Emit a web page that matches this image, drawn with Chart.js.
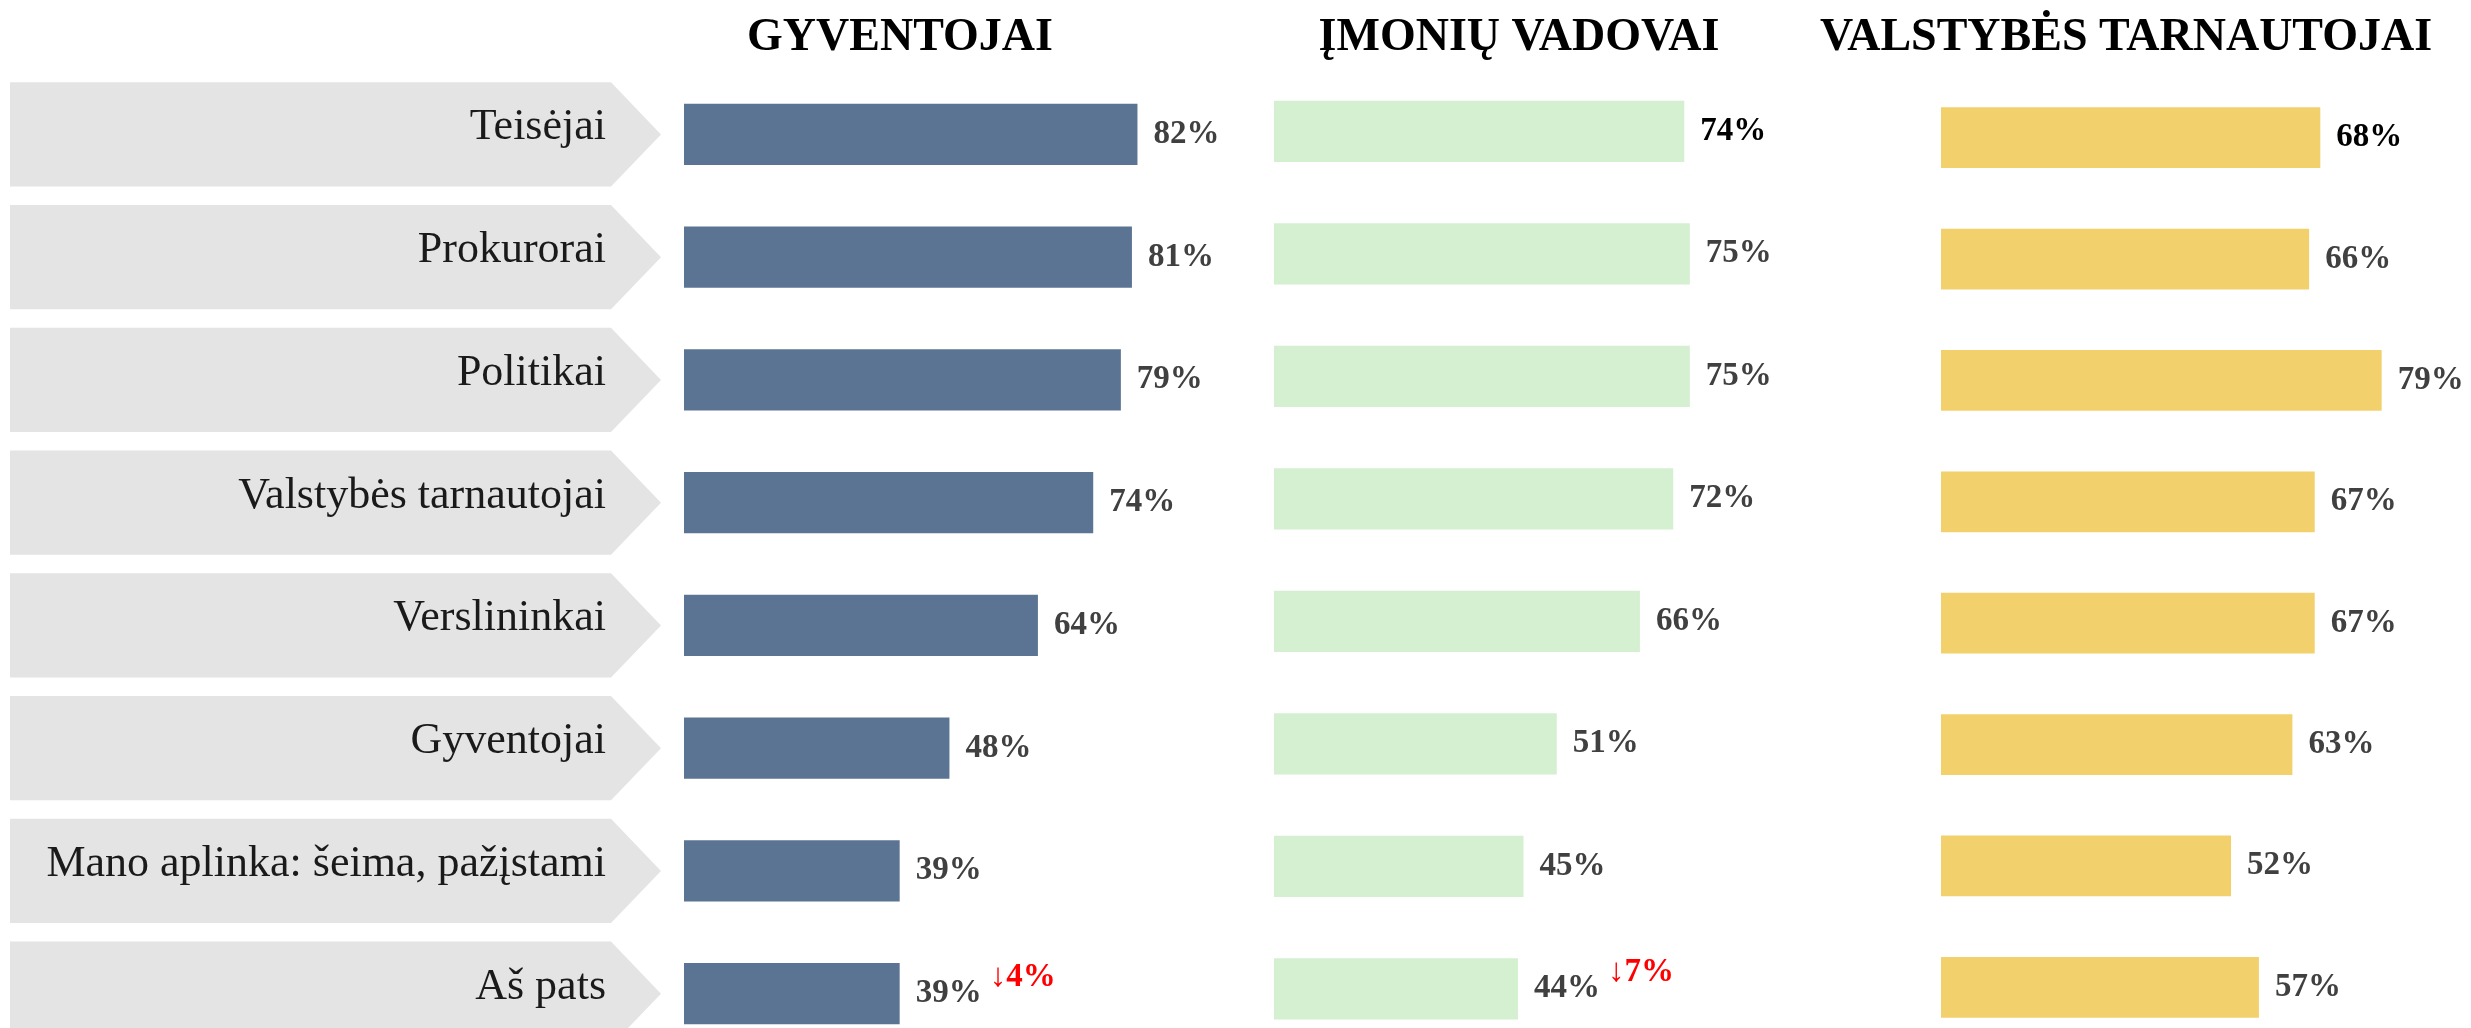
<!DOCTYPE html>
<html>
<head>
<meta charset="utf-8">
<script src="https://cdn.jsdelivr.net/npm/chart.js@4.4.1/dist/chart.umd.min.js"></script>
<style>
  html, body { margin: 0; padding: 0; background: #fff; overflow: hidden; }
  body { width: 2471px; height: 1028px; position: relative; }
  .panel { position: absolute; top: 0; height: 1060px; }
</style>
</head>
<body>
<div class="panel" style="left:0;width:1250px"><canvas id="c1"></canvas></div>
<div class="panel" style="left:1250px;width:550px"><canvas id="c2"></canvas></div>
<div class="panel" style="left:1800px;width:671px"><canvas id="c3"></canvas></div>
<script>
const categories = ['Teisėjai', 'Prokurorai', 'Politikai', 'Valstybės tarnautojai', 'Verslininkai', 'Gyventojai', 'Mano aplinka: šeima, pažįstami', 'Aš pats'];
const titles = ['GYVENTOJAI', 'ĮMONIŲ VADOVAI', 'VALSTYBĖS TARNAUTOJAI'];
const gyventojai = [82, 81, 79, 74, 64, 48, 39, 39];
const imoniuVadovai = [74, 75, 75, 72, 66, 51, 45, 44];
const valstybesTarnautojai = [68, 66, 79, 67, 67, 63, 52, 57];
// change vs previous wave (only shown where reported)
const gyventojaiChange = [null, null, null, null, null, null, null, -4];
const vadovaiChange = [null, null, null, null, null, null, null, -7];
const tarnautojaiChange = [null, null, null, null, null, null, null, null];

const SERIF = '"Liberation Serif", "Times New Roman", serif';

const panelTitle = {
  id: 'panelTitle',
  afterDraw(chart, args, o) {
    const ctx = chart.ctx;
    ctx.save();
    ctx.font = 'bold 46px ' + SERIF;
    ctx.fillStyle = '#000';
    ctx.textAlign = 'center';
    ctx.textBaseline = 'alphabetic';
    ctx.fillText(o.text, o.x, 50);
    ctx.restore();
  }
};

function valueLabels(changes, firstColor) {
  return {
    id: 'valueLabels',
    afterDatasetsDraw(chart) {
      const ctx = chart.ctx;
      const meta = chart.getDatasetMeta(0);
      const data = chart.data.datasets[0].data;
      ctx.save();
      ctx.font = 'bold 33px ' + SERIF;
      ctx.textAlign = 'left';
      meta.data.forEach((bar, i) => {
        const text = data[i] + '%';
        ctx.fillStyle = i === 0 ? firstColor : '#404040';
        ctx.textBaseline = 'middle';
        ctx.fillText(text, bar.x + 16, bar.y);
        if (changes[i] != null) {
          const w = ctx.measureText(text).width;
          ctx.fillStyle = '#ff0000';
          ctx.textBaseline = 'alphabetic';
          ctx.fillText((changes[i] < 0 ? '↓' : '↑') + Math.abs(changes[i]) + '%', bar.x + 16 + w + 8, bar.y - 8);
        }
      });
      ctx.restore();
    }
  };
}

// grey chevrons with the category names, placed on the y scale of the first panel
const categoryArrows = {
  id: 'categoryArrows',
  beforeDatasetsDraw(chart) {
    const ctx = chart.ctx;
    const y = chart.scales.y;
    const half = (y.getPixelForValue(1) - y.getPixelForValue(0)) * 0.425;
    ctx.save();
    categories.forEach((label, i) => {
      const cy = y.getPixelForValue(i);
      ctx.beginPath();
      ctx.moveTo(10, cy - half);
      ctx.lineTo(611, cy - half);
      ctx.lineTo(661, cy);
      ctx.lineTo(611, cy + half);
      ctx.lineTo(10, cy + half);
      ctx.closePath();
      ctx.fillStyle = '#e4e4e4';
      ctx.fill();
      ctx.fillStyle = '#1a1a1a';
      ctx.font = '44px ' + SERIF;
      ctx.textAlign = 'right';
      ctx.textBaseline = 'alphabetic';
      ctx.fillText(label, 606, cy + 5);
    });
    ctx.restore();
  }
};

function makeChart(id, values, cfg) {
  return new Chart(document.getElementById(id), {
    type: 'bar',
    data: {
      labels: categories,
      datasets: [{
        data: values,
        backgroundColor: cfg.color,
        barPercentage: 0.5,
        categoryPercentage: 1
      }]
    },
    options: {
      indexAxis: 'y',
      responsive: true,
      maintainAspectRatio: false,
      animation: false,
      layout: { padding: cfg.padding },
      scales: {
        x: { display: false, min: 0, max: cfg.max },
        y: { display: false }
      },
      plugins: {
        legend: { display: false },
        tooltip: { enabled: false },
        panelTitle: { text: cfg.title, x: cfg.titleX }
      }
    },
    plugins: [panelTitle, valueLabels(cfg.changes, cfg.firstColor)].concat(cfg.extra || [])
  });
}

makeChart('c1', gyventojai, {
  color: '#5b7493', title: titles[0], titleX: 900, max: 100,
  padding: { left: 684, right: 13, top: 73, bottom: 5 },
  changes: gyventojaiChange, firstColor: '#404040', extra: [categoryArrows]
});
makeChart('c2', imoniuVadovai, {
  color: '#d5f0d1', title: titles[1], titleX: 269, max: 90,
  padding: { left: 24, right: 27, top: 70, bottom: 10 },
  changes: vadovaiChange, firstColor: '#000'
});
makeChart('c3', valstybesTarnautojai, {
  color: '#f2d16c', title: titles[2], titleX: 326, max: 90,
  padding: { left: 141, right: 28, top: 77, bottom: 12 },
  changes: tarnautojaiChange, firstColor: '#000'
});
</script>
</body>
</html>
